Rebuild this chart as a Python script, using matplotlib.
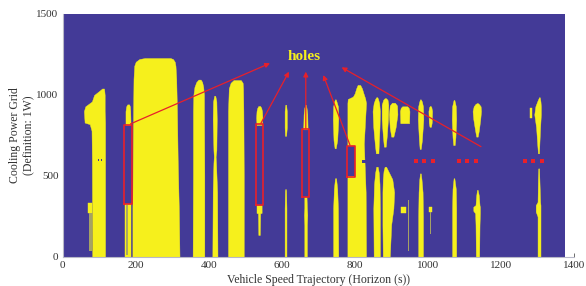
import matplotlib
matplotlib.use("Agg")
import matplotlib.pyplot as plt

# ---------------- data ----------------
x_ticks = [0, 200, 400, 600, 800, 1000, 1200, 1400]
y_ticks = [0, 500, 1000, 1500]
grid_x_range = [0, 1376]
grid_y_range = [0, 1500]

# feasible (yellow) regions: rows of (cooling power, left time, right time)
blob_060 = [(0, 81, 116), (600, 80, 116), (780, 79, 116), (820, 74, 116), (830, 60, 116),
            (900, 58, 115), (930, 62, 115), (960, 80, 115), (1000, 86, 115),
            (1025, 100, 114), (1040, 108, 113)]
blob_070 = [(270, 70, 81), (335, 70, 81)]
blob_180_low = [(0, 172, 187), (330, 172, 187)]
blob_180_up = [(815, 172, 186), (900, 172, 185), (930, 174, 184), (942, 177, 182)]
blob_250 = [(0, 191, 320), (300, 191, 318), (600, 192, 315), (900, 193, 313), (1100, 194, 311),
            (1180, 196, 309), (1205, 200, 307), (1222, 210, 302), (1228, 225, 295)]
blob_370 = [(0, 356, 388), (500, 357, 388), (900, 357, 387), (1000, 358, 387),
            (1050, 361, 385), (1080, 366, 382), (1095, 372, 378)]
blob_415 = [(0, 410, 424), (400, 411, 423), (580, 413, 420), (620, 414, 419), (660, 413, 421),
            (850, 411, 422), (960, 412, 421), (995, 415, 418)]
blob_475 = [(0, 453, 496), (500, 453, 496), (900, 453, 495), (1040, 455, 494),
            (1075, 460, 493), (1092, 468, 488)]
blob_540_up = [(815, 531, 546), (860, 530, 547), (900, 531, 546), (920, 533, 544), (932, 536, 541)]
blob_540_low = [(136, 536, 540), (270, 535, 541), (272, 531, 545), (320, 531, 545)]
blob_610_up = [(748, 609, 612), (800, 608, 614), (900, 608, 614), (940, 610, 612)]
blob_610_low = [(0, 608, 613), (300, 608, 613), (410, 609, 612), (420, 610, 611)]
blob_665_up = [(788, 659, 671), (880, 660, 670), (920, 662, 668), (940, 664, 666)]
blob_665_low = [(0, 662, 669), (200, 662, 669), (260, 661, 670), (300, 662, 669), (372, 662, 668)]
blob_748_up = [(671, 745, 748), (720, 742, 752), (850, 740, 755), (930, 741, 754),
               (960, 744, 750), (973, 746, 748)]
blob_748_low = [(0, 741, 755), (300, 741, 754), (420, 743, 752), (486, 746, 749)]
blob_805 = [(0, 780, 831), (400, 780, 830), (700, 780, 825), (950, 780, 831), (975, 781, 829),
            (990, 795, 827), (1010, 800, 824), (1040, 804, 820), (1062, 808, 815)]
blob_860_up = [(640, 858, 865), (700, 855, 866), (800, 851, 868), (900, 849, 869),
               (950, 852, 867), (975, 856, 864), (986, 859, 862)]
blob_882_up = [(681, 880, 885), (750, 877, 888), (850, 874, 891), (940, 874, 892),
               (970, 878, 890), (980, 882, 886)]
blob_905_up = [(743, 900, 906), (800, 896, 912), (880, 894, 917), (935, 896, 916), (952, 902, 910)]
blob_860_low = [(0, 852, 869), (300, 851, 869), (450, 853, 868), (520, 856, 866), (557, 859, 863)]
blob_890_low = [(0, 877, 896), (200, 876, 900), (300, 876, 906), (400, 876, 908),
                (480, 877, 903), (530, 879, 892), (557, 882, 886)]
blob_937_up = [(826, 925, 949), (900, 924, 950), (920, 926, 948), (930, 930, 944)]
blob_935_low = [(270, 927, 941), (307, 927, 941)]
blob_980_up = [(667, 978, 981), (720, 976, 984), (850, 973, 988), (930, 974, 987),
               (960, 977, 984), (973, 979, 981)]
blob_980_low = [(0, 974, 987), (250, 974, 987), (400, 975, 986), (480, 977, 983), (516, 979, 981)]
blob_1007_up = [(804, 1005, 1009), (830, 1003, 1011), (900, 1002, 1012), (925, 1004, 1010),
                (932, 1006, 1008)]
blob_1007_low = [(280, 1004, 1011), (310, 1004, 1011)]
blob_1072_up = [(691, 1070, 1074), (740, 1068, 1076), (850, 1066, 1078), (930, 1067, 1077),
                (960, 1070, 1074), (969, 1071, 1073)]
blob_1072_low = [(0, 1067, 1078), (300, 1067, 1078), (420, 1068, 1077), (486, 1071, 1073)]
blob_1135_up = [(743, 1133, 1137), (780, 1130, 1140), (850, 1125, 1144), (900, 1123, 1146),
                (930, 1126, 1145), (945, 1131, 1140), (950, 1135, 1137)]
blob_1135_low = [(0, 1132, 1141), (200, 1131, 1142), (270, 1130, 1143), (285, 1125, 1143),
                 (310, 1125, 1143), (320, 1131, 1142), (380, 1133, 1140), (414, 1135, 1137)]
blob_1282 = [(858, 1280, 1285), (920, 1280, 1285)]
blob_1303_up = [(640, 1302, 1305), (700, 1300, 1306), (800, 1297, 1308), (880, 1292, 1310),
                (930, 1295, 1310), (960, 1300, 1309), (986, 1305, 1307)]
blob_1303_low = [(0, 1301, 1309), (250, 1301, 1309), (280, 1296, 1309), (320, 1296, 1309),
                 (340, 1301, 1308), (480, 1302, 1306), (547, 1303, 1305)]

feasible_regions = [blob_060, blob_070, blob_180_low, blob_180_up, blob_250, blob_370, blob_415,
                    blob_475, blob_540_up, blob_540_low, blob_610_up, blob_610_low, blob_665_up,
                    blob_665_low, blob_748_up, blob_748_low, blob_805, blob_860_up, blob_882_up,
                    blob_905_up, blob_860_low, blob_890_low, blob_937_up, blob_935_low,
                    blob_980_up, blob_980_low, blob_1007_up, blob_1007_low, blob_1072_up,
                    blob_1072_low, blob_1135_up, blob_1135_low, blob_1282, blob_1303_up,
                    blob_1303_low]

# infeasible cells inside feasible regions: (left, right, bottom, top)
hole_cells = [(779, 802, 498, 683), (821, 834, 578, 598), (97, 100, 592, 606), (104, 107, 592, 606)]

# sparse partial stripes (mixed cells)
stripe_x = [72, 75, 78, 174, 177, 947, 1007]
stripe_y0 = [45, 45, 45, 20, 20, 45, 146]
stripe_y1 = [270, 270, 270, 320, 320, 350, 280]

# annotated holes
hole_boxes = [(168, 189, 327, 815), (530, 548, 321, 819), (656, 675, 372, 788), (778, 802, 496, 685)]
arrow_tails = [(186, 822), (543, 825), (666, 794), (787, 691), (1146, 681)]
arrow_heads = [(568, 1196), (620, 1144), (666, 1144), (714, 1123), (764, 1171)]
dot_x = [968, 991, 1014, 1087, 1108, 1131, 1267, 1289, 1312]
dot_y = [594] * len(dot_x)
label_text = "holes"
label_pos = (661, 1240)

# ---------------- style ----------------
BLUE = "#433a97"
YELLOW = "#f6f01c"
RED = "#e8202a"
STRIPE = "#a9a664"

plt.rcParams["font.family"] = ["Liberation Serif", "DejaVu Serif"]

fig = plt.figure(figsize=(5.86, 2.86), dpi=100)
ax = fig.add_axes([0.107, 0.1014, 0.872, 0.8497])
ax.set_xlim(0, 1400)
ax.set_ylim(0, 1500)
ax.set_axisbelow(True)

ax.fill_between(grid_x_range, grid_y_range[0], grid_y_range[1], color=BLUE, lw=0, zorder=1)

for prof in feasible_regions:
    ys = [p[0] for p in prof]
    ls = [p[1] for p in prof]
    rs = [p[2] for p in prof]
    ax.fill_betweenx(ys, ls, rs, facecolor=YELLOW, edgecolor=YELLOW, lw=0.3, zorder=2)

for x, y0, y1 in zip(stripe_x, stripe_y0, stripe_y1):
    ax.plot([x, x], [y0, y1], color=STRIPE, lw=0.7, zorder=2.2)

for (x0, x1, y0, y1) in hole_cells:
    ax.fill_between([x0, x1], y0, y1, color=BLUE, lw=0, zorder=2.5)

for (x0, x1, y0, y1) in hole_boxes:
    ax.plot([x0, x1, x1, x0, x0], [y0, y0, y1, y1, y0], color=RED, lw=1.2, zorder=4)

for t, h in zip(arrow_tails, arrow_heads):
    ax.annotate("", xy=h, xytext=t,
                arrowprops=dict(arrowstyle="-|>", color=RED, lw=0.9, mutation_scale=7,
                                shrinkA=0, shrinkB=0), zorder=5)

ax.plot(dot_x, dot_y, ls="none", marker="s", ms=2.3, mew=0, color=RED, zorder=4)

ax.text(label_pos[0], label_pos[1], label_text, color=YELLOW, fontsize=11, fontweight="bold",
        ha="center", va="center", zorder=6)

ax.set_xticks(x_ticks)
ax.set_yticks(y_ticks)
ax.tick_params(direction="in", length=3, width=0.6, color="#555555", labelsize=8,
               labelcolor="#333333", pad=3)
for s in ["top", "right"]:
    ax.spines[s].set_visible(False)
for s in ["left", "bottom"]:
    ax.spines[s].set_color("#b8b8c8")
    ax.spines[s].set_linewidth(0.8)

ax.set_xlabel("Vehicle Speed Trajectory (Horizon (s))", fontsize=8.5, color="#333333", labelpad=3)
ax.set_ylabel("Cooling Power Grid\n(Definition: 1W)", fontsize=8.5, color="#333333", labelpad=1)

fig.savefig("out.png", dpi=100)
